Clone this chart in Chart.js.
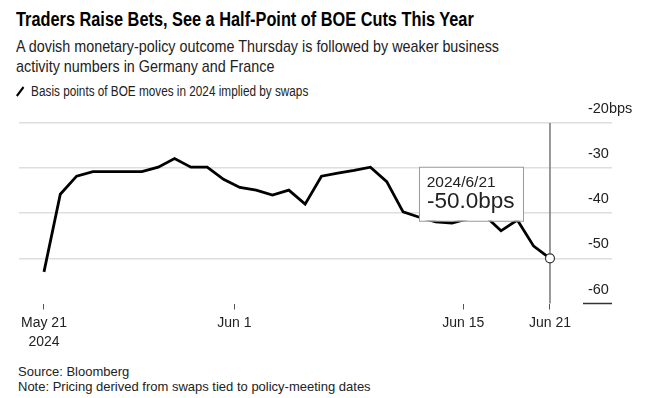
<!DOCTYPE html>
<html>
<head>
<meta charset="utf-8">
<script src="https://cdn.jsdelivr.net/npm/chart.js@4/dist/chart.umd.min.js"></script>
<style>
  body { margin: 0; background: #fff; width: 646px; height: 398px; overflow: hidden; position: relative; font-family: "Liberation Sans", Arial, sans-serif; }
  .squeeze { transform-origin: 0 0; white-space: nowrap; }
  #title { position: absolute; left: 15.5px; top: 10px; font-size: 19.5px; line-height: 19.5px; font-weight: bold; color: #000; transform: scaleX(0.837); }
  #sub { position: absolute; left: 16px; top: 37px; font-size: 17px; line-height: 20px; color: #222; transform: scaleX(0.844); }
  #legend { position: absolute; left: 15.5px; top: 84px; font-size: 14px; line-height: 14px; color: #222; transform: scaleX(0.84); }
  #legend svg { vertical-align: -1px; margin-right: 8px; }
  #source { position: absolute; left: 18px; top: 365px; font-size: 13px; line-height: 14.6px; color: #222; }
  #wrap { position: absolute; left: 0; top: 100px; width: 646px; height: 264px; }
</style>
</head>
<body>
<div id="title" class="squeeze">Traders Raise Bets, See a Half-Point of BOE Cuts This Year</div>
<div id="sub" class="squeeze">A dovish monetary-policy outcome Thursday is followed by weaker business<br>activity numbers in Germany and France</div>
<div id="legend" class="squeeze"><svg width="10" height="11"><line x1="1" y1="10" x2="9" y2="1" stroke="#000" stroke-width="2.6"/></svg>Basis points of BOE moves in 2024 implied by swaps</div>
<div id="wrap"><canvas id="myChart" width="646" height="264"></canvas></div>
<div id="source">Source: Bloomberg<br>Note: Pricing derived from swaps tied to policy-meeting dates</div>
<script>
// daily points, May 21 .. Jun 21 2024 (index = day number)
var dayIndex = [];
var boeBps = [-53.0, -35.8, -31.8, -30.8, -30.8, -30.8, -30.8, -29.8, -27.9, -29.8,
              -29.8, -32.5, -34.3, -34.9, -36.0, -34.9, -38.0, -31.8, -31.1, -30.5,
              -29.8, -33.0, -39.7, -40.9, -41.9, -42.2, -41.2, -40.5, -43.9, -41.5,
              -47.3, -50.0];
for (var i = 0; i < boeBps.length; i++) dayIndex.push(i);

var xTickPos = [0, 11.66, 25.69, 31];
var xTickLabels = [['May 21', '2024'], 'Jun 1', 'Jun 15', 'Jun 21'];
var yTicks = [-60, -50, -40, -30, -20];
var lastDate = '2024/6/21';

var last = boeBps.length - 1;

var overlay = {
    id: 'overlay',
    beforeDatasetsDraw: function (chart) {
        var c = chart.ctx, x = chart.scales.x, y = chart.scales.y;
        var px = x.getPixelForValue(dayIndex[last]);
        c.save();
        c.strokeStyle = '#777';
        c.lineWidth = 1.5;
        c.beginPath();
        c.moveTo(px, y.getPixelForValue(-20));
        c.lineTo(px, y.getPixelForValue(-60));
        c.stroke();
        // short baseline at the -60 label
        c.strokeStyle = '#333';
        c.beginPath();
        c.moveTo(chart.chartArea.right - 29, y.getPixelForValue(-60));
        c.lineTo(chart.chartArea.right, y.getPixelForValue(-60));
        c.stroke();
        c.restore();
    },
    afterDatasetsDraw: function (chart) {
        var c = chart.ctx, x = chart.scales.x, y = chart.scales.y;
        var px = x.getPixelForValue(dayIndex[last]);
        var py = y.getPixelForValue(boeBps[last]);
        c.save();
        c.fillStyle = '#fff';
        c.strokeStyle = '#999';
        c.lineWidth = 1;
        c.fillRect(px - 131, py - 91.6, 104, 54);
        c.strokeRect(px - 131 + 0.5, py - 91.6 + 0.5, 104, 54);
        c.fillStyle = '#222';
        c.textAlign = 'left';
        c.textBaseline = 'alphabetic';
        c.font = '15.5px "Liberation Sans", Arial, sans-serif';
        c.fillText(lastDate, px - 123.3, py - 71);
        c.font = '22.5px "Liberation Sans", Arial, sans-serif';
        c.fillText(boeBps[last].toFixed(1) + 'bps', px - 123, py - 50);
        c.restore();
    }
};

var ctx = document.getElementById('myChart');
var myChart = new Chart(ctx, {
    type: 'line',
    data: {
        labels: dayIndex,
        datasets: [{
            data: boeBps.map(function (v, i) { return { x: dayIndex[i], y: v }; }),
            borderColor: '#000',
            borderWidth: 2.8,
            tension: 0,
            fill: false,
            pointRadius: function (c) { return c.dataIndex === last ? 4.5 : 0; },
            pointBackgroundColor: '#fff',
            pointBorderColor: '#333',
            pointBorderWidth: 1.2
        }]
    },
    options: {
        responsive: false,
        animation: false,
        events: [],
        layout: { padding: { top: 22.9, left: 19, right: 0, bottom: 0 } },
        plugins: { legend: { display: false }, tooltip: { enabled: false } },
        scales: {
            x: {
                type: 'linear',
                min: -1.53,
                max: 34.8,
                afterFit: function (s) { s.height = 60.5; },
                afterBuildTicks: function (s) { s.ticks = xTickPos.map(function (v) { return { value: v }; }); },
                border: { display: false },
                grid: { drawOnChartArea: false, drawTicks: true, tickLength: 6, color: '#555', lineWidth: 1 },
                ticks: {
                    autoSkip: false,
                    maxRotation: 0,
                    padding: 5,
                    color: '#222',
                    font: { family: '"Liberation Sans", Arial, sans-serif', size: 14, lineHeight: 1.3 },
                    callback: function (v, i) { return xTickLabels[i]; }
                }
            },
            y: {
                position: 'right',
                min: -60,
                max: -20,
                afterFit: function (s) { s.width = 34; s.paddingTop = 0; s.paddingBottom = 0; },
                afterBuildTicks: function (s) { s.ticks = yTicks.map(function (v) { return { value: v }; }); },
                border: { display: false },
                grid: {
                    drawTicks: false,
                    lineWidth: 1.5,
                    color: function (c) { return c.tick && c.tick.value === -60 ? 'rgba(0,0,0,0)' : '#dedede'; }
                },
                ticks: {
                    mirror: true,
                    crossAlign: 'far',
                    padding: 20.3,
                    labelOffset: -14,
                    color: '#222',
                    font: { family: '"Liberation Sans", Arial, sans-serif', size: 14.5 },
                    callback: function (v) { return v === -20 ? '-20bps' : String(v); }
                }
            }
        }
    },
    plugins: [overlay]
});
</script>
</body>
</html>
